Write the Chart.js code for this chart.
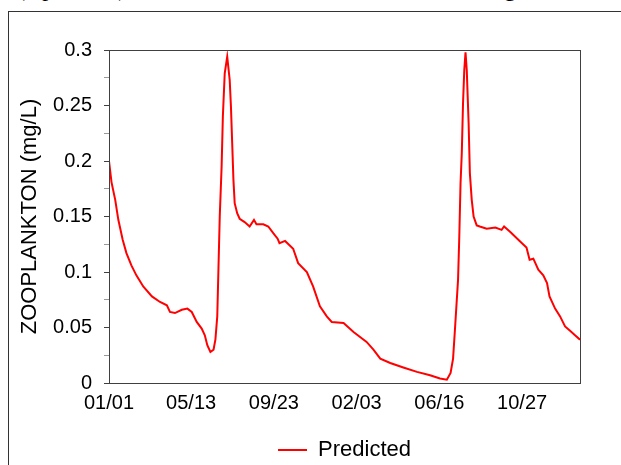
<!DOCTYPE html>
<html>
<head>
<meta charset="utf-8">
<script src="https://cdn.jsdelivr.net/npm/chart.js@4.4.1/dist/chart.umd.min.js"></script>
<style>
  html, body { margin: 0; padding: 0; background: #fff; width: 621px; height: 465px; overflow: hidden; }
  #frame { position: absolute; left: 8px; top: 11px; width: 613px; height: 454px;
           border-left: 1px solid #333; border-top: 1px solid #333; }
  .caption { position: absolute; top: -25px; font: 24px "Liberation Serif", serif; color: #000; white-space: pre; }
  #chart { position: absolute; left: 0; top: 0; }
</style>
</head>
<body>
<div class="caption" style="left:17px">(Upstream)</div>
<div class="caption" style="left:436px">Loading</div>
<div id="frame"></div>
<canvas id="chart" width="621" height="471"></canvas>
<script>
// day offsets from 01/01 of the first year, and predicted zooplankton (mg/L)
const days = [0, 4, 10, 15, 22, 28, 36, 44, 55, 69, 82, 93, 98, 106, 117, 126, 133, 141, 149, 154,
  158, 163, 168, 171, 174, 176, 178, 181, 183, 186, 190, 194, 196, 198, 200, 202, 206, 210, 218, 226,
  233, 237, 248, 256, 264, 271, 274, 283, 296, 304, 318, 328, 339, 350, 358, 377, 393, 414, 425, 436,
  452, 473, 495, 516, 532, 543, 549, 553, 556, 559, 561, 563, 565, 567, 569, 571, 573, 575, 578, 580,
  583, 586, 591, 596, 607, 621, 631, 635, 645, 660, 671, 676, 682, 690, 698, 704, 708, 717, 725, 733,
  741, 749, 757];
const predicted = [0.200, 0.181, 0.165, 0.147, 0.129, 0.117, 0.106, 0.097, 0.087, 0.078, 0.073, 0.070, 0.064, 0.063, 0.066, 0.067, 0.064, 0.055, 0.049, 0.043,
  0.034, 0.028, 0.030, 0.039, 0.060, 0.105, 0.150, 0.195, 0.240, 0.279, 0.294, 0.273, 0.249, 0.216, 0.183, 0.162, 0.153, 0.148, 0.145, 0.141,
  0.147, 0.143, 0.143, 0.141, 0.135, 0.130, 0.126, 0.128, 0.121, 0.108, 0.100, 0.087, 0.069, 0.060, 0.055, 0.054, 0.046, 0.037, 0.030, 0.022,
  0.018, 0.014, 0.010, 0.007, 0.004, 0.003, 0.009, 0.022, 0.048, 0.075, 0.093, 0.132, 0.180, 0.207, 0.252, 0.282, 0.298, 0.282, 0.234, 0.189,
  0.165, 0.150, 0.142, 0.141, 0.139, 0.140, 0.138, 0.141, 0.136, 0.128, 0.122, 0.111, 0.112, 0.102, 0.097, 0.090, 0.078, 0.067, 0.060, 0.051,
  0.047, 0.043, 0.039];

const xTickDays = [0, 132, 265, 398, 531, 664];
const xTickLabels = ["01/01", "05/13", "09/23", "02/03", "06/16", "10/27"];

const font = "'Liberation Sans', Arial, sans-serif";

const plotBorder = {
  id: "plotBorder",
  afterDraw(chart) {
    const a = chart.chartArea;
    const c = chart.ctx;
    c.save();
    c.strokeStyle = "#404040";
    c.lineWidth = 1;
    c.strokeRect(Math.round(a.left) + 0.5, Math.round(a.top) + 0.5,
      Math.round(a.right - a.left), Math.round(a.bottom - a.top));
    c.restore();
  }
};

new Chart(document.getElementById("chart"), {
  type: "line",
  data: {
    datasets: [{
      label: "Predicted",
      data: days.map((d, i) => ({ x: d, y: predicted[i] })),
      borderColor: "#ff0000",
      backgroundColor: "#ff0000",
      borderWidth: 2,
      pointRadius: 0,
      tension: 0,
      fill: false
    }]
  },
  options: {
    responsive: false,
    animation: false,
    layout: { padding: { left: 13, right: 41, top: 50, bottom: 0 } },
    plugins: {
      tooltip: { enabled: false },
      legend: {
        position: "bottom",
        fullSize: false,
        labels: {
          usePointStyle: true,
          pointStyle: "line",
          pointStyleWidth: 29,
          color: "#000",
          padding: 5,
          font: { family: font, size: 22 }
        }
      }
    },
    scales: {
      x: {
        type: "linear",
        min: 0,
        max: 757,
        afterBuildTicks: s => { s.ticks = xTickDays.map(v => ({ value: v })); },
        afterFit: s => { s.height = 51; },
        grid: { display: false, drawTicks: false },
        border: { display: true, color: "#555" },
        ticks: {
          autoSkip: false,
          maxRotation: 0,
          padding: 8,
          color: "#000",
          font: { family: font, size: 20 },
          callback: (v, i) => xTickLabels[i]
        }
      },
      y: {
        min: 0,
        max: 0.3,
        afterFit: s => { s.width = 96; },
        border: { display: true, color: "#404040" },
        grid: {
          drawOnChartArea: false,
          tickLength: 5,
          color: c => (Math.round(c.tick.value * 1000) % 50 === 0 ? "#404040" : "#999")
        },
        ticks: {
          stepSize: 0.025,
          padding: 12,
          color: "#000",
          font: { family: font, size: 20 },
          callback: v => (Math.round(v * 1000) % 50 === 0 ? String(Number(v.toFixed(3))) : "")
        },
        title: {
          display: true,
          text: "ZOOPLANKTON (mg/L)",
          color: "#000",
          font: { family: font, size: 22 }
        }
      }
    }
  },
  plugins: [plotBorder]
});
</script>
</body>
</html>
